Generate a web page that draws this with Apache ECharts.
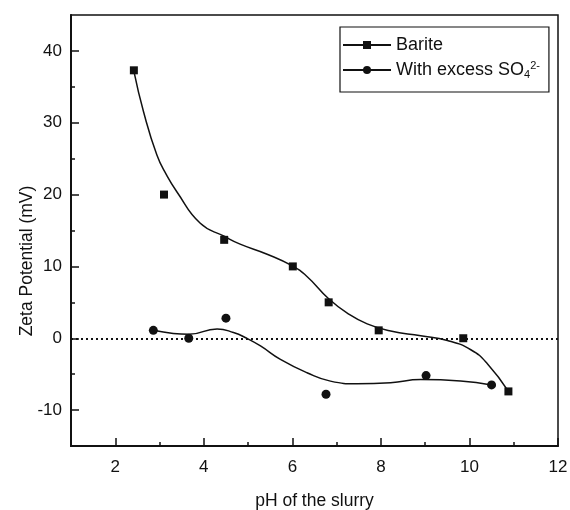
<!DOCTYPE html>
<html>
<head>
<meta charset="utf-8">
<script src="https://cdn.jsdelivr.net/npm/echarts@6/dist/echarts.min.js"></script>
<style>
  html, body { margin: 0; padding: 0; background: #fff; }
  #chart { width: 570px; height: 510px; }
</style>
</head>
<body>
<div id="chart"></div>
<script>
// measured points [pH, zeta mV]
var bariteData = [
  [2.42, 37.3], [3.10, 20.0], [4.46, 13.7], [6.01, 10.0],
  [6.82, 5.0], [7.95, 1.1], [9.86, 0.0], [10.88, -7.4]
];
var sulfateData = [
  [2.86, 1.1], [3.66, 0.0], [4.50, 2.8], [6.76, -7.8],
  [9.02, -5.2], [10.50, -6.5]
];
// fitted curves
var bariteCurve = [
  [2.42, 37.2], [2.64, 31.5], [2.94, 25.5], [3.16, 22.7], [3.39, 20.4],
  [3.92, 16.0], [4.46, 14.2], [4.82, 13.1], [5.43, 11.7], [5.99, 10.1],
  [6.33, 8.6], [6.82, 5.5], [7.24, 3.5], [7.69, 2.0], [8.22, 1.0],
  [8.90, 0.35], [9.50, -0.3], [10.03, -1.6], [10.40, -3.5], [10.88, -7.4]
];
var sulfateCurve = [
  [2.86, 1.1], [3.31, 0.66], [3.66, 0.55], [4.30, 1.3], [4.67, 0.8],
  [4.97, 0.0], [5.28, -1.07], [5.73, -2.94], [6.33, -4.8], [6.86, -5.97],
  [7.46, -6.34], [8.22, -6.2], [8.90, -5.75], [9.80, -5.95], [10.50, -6.5]
];
var xLabels = [2, 4, 6, 8, 10, 12];
var xMinor = [3, 5, 7, 9, 11];
var yLabels = [-10, 0, 10, 20, 30, 40];
var yMinor = [-5, 5, 15, 25, 35];

var FONT = 'Liberation Sans, Arial, sans-serif';
var INK = '#111';

var chart = echarts.init(document.getElementById('chart'));

chart.setOption({
  backgroundColor: '#fff',
  animation: false,
  textStyle: { fontFamily: FONT, color: INK },
  grid: {
    left: 71, top: 15, right: 12, bottom: 64,
    outerBoundsMode: 'none',
    show: true, borderColor: INK, borderWidth: 1.5
  },
  legend: {
    orient: 'vertical',
    left: 340,
    top: 27,
    data: ['Barite', 'With excess SO4'],
    itemWidth: 48,
    itemHeight: 10,
    itemGap: 5,
    padding: [8, 9, 12, 2],
    borderColor: INK,
    borderWidth: 1.2,
    formatter: function (name) {
      return name === 'Barite' ? 'Barite' : 'With excess SO{sub|4}{sup|2-}';
    },
    textStyle: {
      fontFamily: FONT, fontSize: 18, color: INK, lineHeight: 20,
      rich: {
        sub: { fontSize: 11, verticalAlign: 'bottom', padding: [8, 0, 0, 0], fontFamily: FONT, color: INK },
        sup: { fontSize: 11, verticalAlign: 'top', padding: [0, 0, 10, 0], fontFamily: FONT, color: INK }
      }
    }
  },
  xAxis: [{
    type: 'value',
    min: 1,
    max: 12,
    name: 'pH of the slurry',
    nameLocation: 'middle',
    nameGap: 46,
    nameMoveOverlap: false,
    nameTextStyle: { fontFamily: FONT, fontSize: 17.5, color: INK },
    axisLine: { onZero: false, lineStyle: { color: INK, width: 2 } },
    axisTick: { inside: true, length: 8, customValues: xLabels, lineStyle: { color: INK, width: 1.5 } },
    axisLabel: { customValues: xLabels, margin: 13, fontFamily: FONT, fontSize: 17, color: INK },
    splitLine: { show: false }
  }, {
    type: 'value',
    min: 1,
    max: 12,
    position: 'bottom',
    axisLine: { show: false, onZero: false },
    axisTick: { inside: true, length: 4, customValues: xMinor, lineStyle: { color: INK, width: 1.5 } },
    axisLabel: { show: false },
    splitLine: { show: false }
  }],
  yAxis: [{
    type: 'value',
    min: -15,
    max: 45,
    name: 'Zeta Potential (mV)',
    nameLocation: 'middle',
    nameGap: 35,
    nameMoveOverlap: false,
    nameTextStyle: { fontFamily: FONT, fontSize: 17.5, color: INK, padding: [0, 61, 0, 0] },
    axisLine: { onZero: false, lineStyle: { color: INK, width: 2 } },
    axisTick: { inside: true, length: 8, customValues: yLabels, lineStyle: { color: INK, width: 1.5 } },
    axisLabel: { customValues: yLabels, margin: 9, fontFamily: FONT, fontSize: 17, color: INK },
    splitLine: { show: false }
  }, {
    type: 'value',
    min: -15,
    max: 45,
    position: 'left',
    axisLine: { show: false, onZero: false },
    axisTick: { inside: true, length: 4, customValues: yMinor, lineStyle: { color: INK, width: 1.5 } },
    axisLabel: { show: false },
    splitLine: { show: false }
  }],
  series: [
    {
      name: 'Barite',
      type: 'line',
      data: bariteCurve,
      smooth: 0.5,
      symbol: 'rect',
      showSymbol: false,
      itemStyle: { color: INK },
      lineStyle: { color: INK, width: 1.5 },
      markLine: {
        silent: true,
        symbol: 'none',
        label: { show: false },
        lineStyle: { color: INK, width: 2, type: [2, 3] },
        data: [{ yAxis: 0 }]
      },
      z: 3
    },
    {
      name: 'With excess SO4',
      type: 'line',
      data: sulfateCurve,
      smooth: 0.5,
      symbol: 'circle',
      showSymbol: false,
      itemStyle: { color: INK },
      lineStyle: { color: INK, width: 1.5 },
      z: 3
    },
    {
      name: 'Barite points',
      type: 'scatter',
      data: bariteData,
      symbol: 'rect',
      symbolSize: 8,
      itemStyle: { color: INK, opacity: 1 },
      z: 4
    },
    {
      name: 'SO4 points',
      type: 'scatter',
      data: sulfateData,
      symbol: 'circle',
      symbolSize: 9,
      itemStyle: { color: INK, opacity: 1 },
      z: 4
    }
  ]
});
</script>
</body>
</html>
